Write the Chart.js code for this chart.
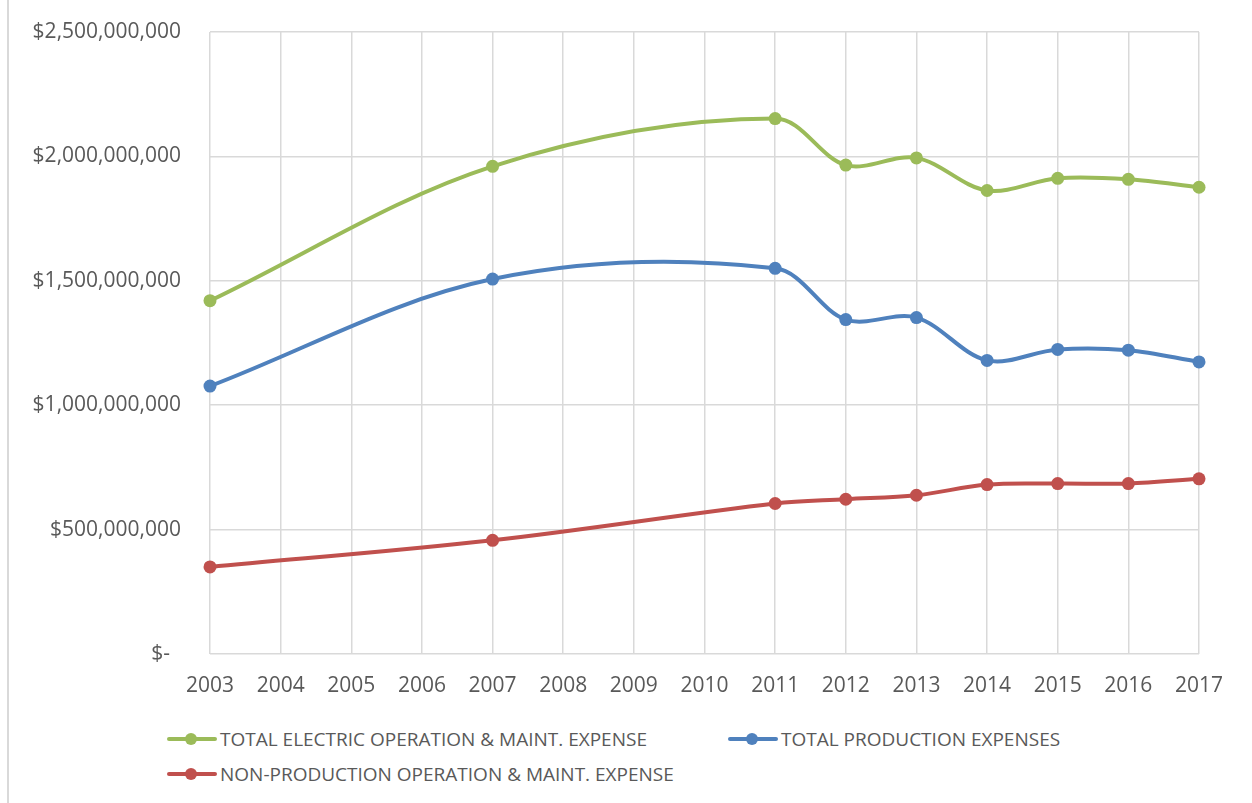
<!DOCTYPE html>
<html>
<head>
<meta charset="utf-8">
<script src="https://cdn.jsdelivr.net/npm/chart.js@4/dist/chart.umd.min.js"></script>
<style>
  html, body { margin: 0; padding: 0; background: #fff; }
  #wrap { position: relative; width: 1252px; height: 803px; overflow: hidden; font-family: "Open Sans", sans-serif; }
  #frame { position: absolute; left: 7px; top: 0; width: 0; height: 803px; border-left: 2px solid #d9d9d9; }
  #box { position: absolute; left: 0; top: 0; width: 1252px; height: 712px; }
  #legenda { position: absolute; left: 167px; top: 727px; display: grid; grid-template-columns: 561px auto; row-gap: 11px; }
  .item { display: flex; align-items: center; height: 24px; color: #595959; font-size: 19px; white-space: nowrap; }
  .marca { position: relative; width: 50px; height: 24px; margin-right: 3px; }
  .marca .linha { position: absolute; left: 0; right: 0; top: 10px; height: 4px; border-radius: 2px; }
  .marca .ponto { position: absolute; left: 18px; top: 6px; width: 12px; height: 12px; border-radius: 50%; }
</style>
</head>
<body>
<div id="wrap">
  <div id="frame"></div>
  <div id="box"><canvas id="grafico"></canvas></div>
  <div id="legenda"></div>
</div>
<script>
// valores (US$)
const anos = [2003, 2007, 2011, 2012, 2013, 2014, 2015, 2016, 2017];
const totalEletrico = [1420e6, 1960e6, 2152e6, 1965e6, 1994e6, 1863e6, 1912e6, 1908e6, 1876e6];
const totalProducao = [1077e6, 1507e6, 1550e6, 1344e6, 1352e6, 1180e6, 1224e6, 1221e6, 1174e6];
const naoProducao = [350e6, 457e6, 605e6, 622e6, 638e6, 681e6, 685e6, 685e6, 704e6];

const rotulos = [
    'TOTAL ELECTRIC OPERATION & MAINT. EXPENSE',
    'TOTAL PRODUCTION EXPENSES',
    'NON-PRODUCTION OPERATION & MAINT. EXPENSE'
];
const cores = ['#9bbb59', '#4f81bd', '#c0504d'];
const series = [totalEletrico, totalProducao, naoProducao];

const corTexto = '#595959';
const corGrade = '#d9d9d9';

function montarSerie(valores, i) {
    return {
        label: rotulos[i],
        data: anos.map((a, k) => ({ x: a, y: valores[k] })),
        borderColor: cores[i],
        backgroundColor: cores[i],
        borderWidth: 4,
        pointRadius: 6.5,
        pointHoverRadius: 6.5,
        pointBorderWidth: 0,
        tension: 0.34,
        clip: false,
        fill: false
    };
}

new Chart(document.getElementById('grafico').getContext('2d'), {
    type: 'line',
    data: { datasets: series.map(montarSerie) },
    options: {
        responsive: true,
        maintainAspectRatio: false,
        animation: false,
        layout: { padding: { top: 32, right: 53, left: 0, bottom: 0 } },
        plugins: { legend: { display: false }, tooltip: { enabled: false } },
        scales: {
            x: {
                type: 'linear',
                min: 2003,
                max: 2017,
                ticks: {
                    stepSize: 1,
                    color: corTexto,
                    font: { family: 'Open Sans', size: 21 },
                    padding: 0,
                    callback: v => String(v)
                },
                grid: { color: corGrade, lineWidth: 1.5, tickLength: 19, tickColor: 'transparent' },
                border: { display: false },
                afterFit: s => { s.height = 58; }
            },
            y: {
                min: 0,
                max: 2500000000,
                ticks: {
                    stepSize: 500000000,
                    color: corTexto,
                    font: { family: 'Open Sans', size: 21 },
                    padding: 0,
                    callback: v => v === 0 ? '$-  ' : '$' + v.toLocaleString('en-US')
                },
                grid: { color: corGrade, lineWidth: 1.5, tickLength: 29, tickColor: 'transparent' },
                border: { display: false },
                afterFit: s => { s.width = 210; }
            }
        }
    }
});

// legenda em HTML (duas colunas, alinhada à esquerda)
const legenda = document.getElementById('legenda');
rotulos.forEach((txt, i) => {
    const item = document.createElement('div');
    item.className = 'item';
    item.innerHTML = `<span class="marca"><span class="linha" style="background:${cores[i]}"></span><span class="ponto" style="background:${cores[i]}"></span></span><span></span>`;
    item.lastChild.textContent = txt;
    legenda.appendChild(item);
});
</script>
</body>
</html>
